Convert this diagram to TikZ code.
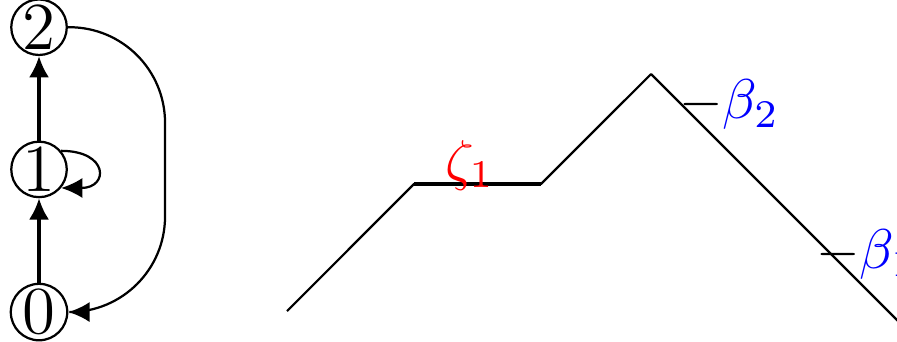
\documentclass[tikz,border=0pt]{standalone}
\usetikzlibrary{arrows.meta}
\usetikzlibrary{positioning}

\tikzset{state/.style={circle,draw=black,inner sep=0pt,minimum size=0.34cm,font=\large},
  arr/.style={-{Latex[length=3.8pt,width=3.6pt]}}}

\begin{document}
\begin{tikzpicture}
\useasboundingbox (0,0) rectangle (5.631,2.141);

% chain of states
\node[state] (n0) at (0.245,0.182) {0};
\node[state,above=0.53cm of n0] (n1) {1};
\node[state,above=0.53cm of n1] (n2) {2};
\coordinate (bend) at (1.036,1.05);
\draw[arr,semithick] (n0) -- (n1);
\draw[arr,semithick] (n1) -- (n2);
\draw[arr] (n1.40) to[out=0,in=0,distance=0.3cm] (n1.-40);
\draw[arr,rounded corners=0.6cm] (n2.east) -- (bend |- n2.east) -- (bend |- n0.east) -- (n0.east);

% profile
\coordinate (p0) at (1.802,0.188);
\coordinate (p1) at (2.599,0.986);
\coordinate (p2) at (3.396,0.986);
\coordinate (p3) at (4.087,1.676);
\coordinate (p4) at (5.730,0.033);
\draw[line join=round] (p0) -- (p1) -- (p2) -- (p3) -- (p4);
\draw[thick] (p1) -- (p2);
\node[anchor=base,text=red,inner sep=0pt] (z1) at (2.950,1.017) {$\zeta_1$};
\node[anchor=base west,inner sep=0pt] (b2) at (4.256,1.394) {$-\textcolor{blue}{\beta_2}$};
\node[anchor=base west,inner sep=0pt] (b1) at (5.116,0.458) {$-\textcolor{blue}{\beta_1}$};
\end{tikzpicture}
\end{document}
